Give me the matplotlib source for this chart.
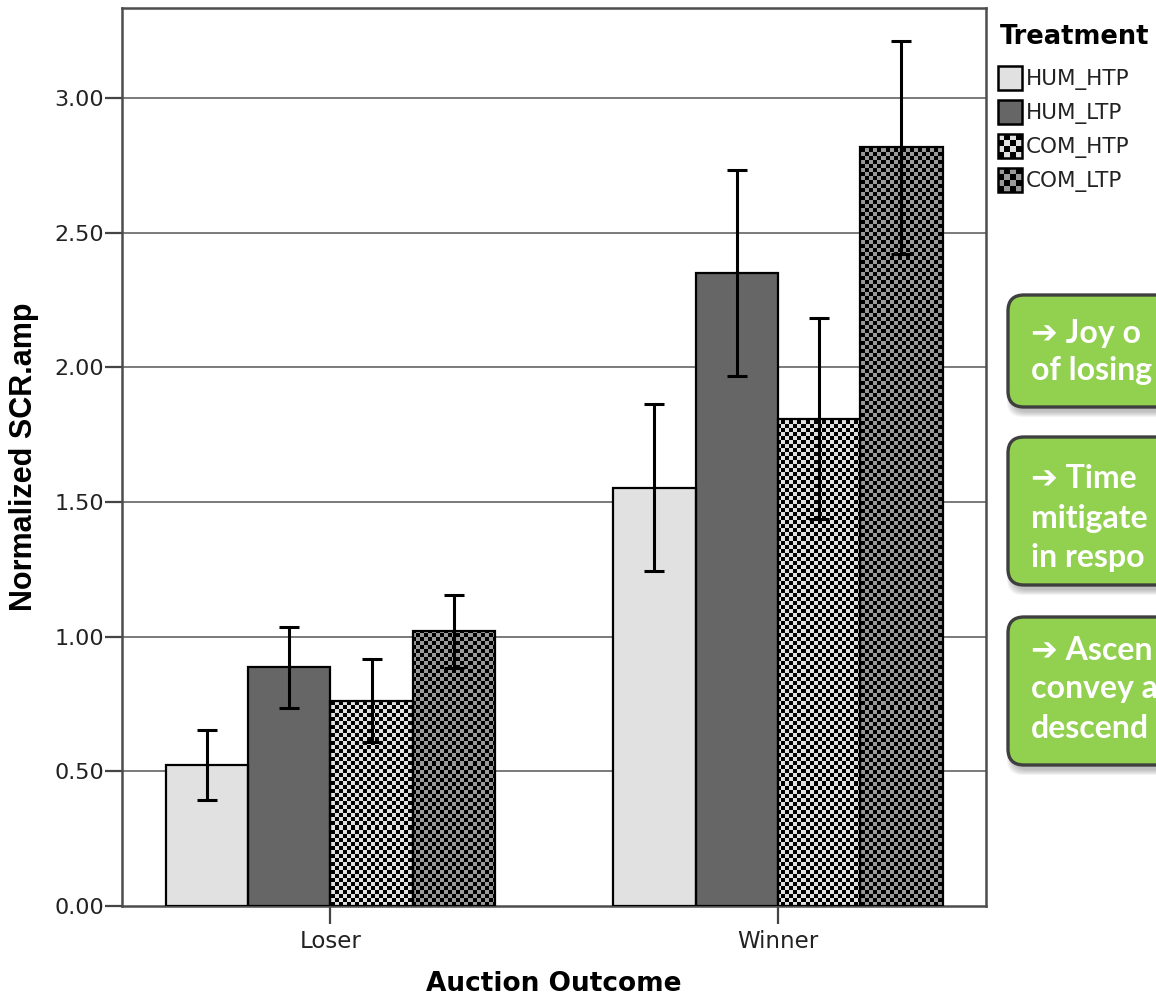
import matplotlib.pyplot as plt
import numpy as np
from matplotlib.patches import FancyBboxPatch, Rectangle

# data
outcomes = ['Loser', 'Winner']
treatments = ['HUM_HTP', 'HUM_LTP', 'COM_HTP', 'COM_LTP']
hum_htp = [0.524, 1.554]
hum_ltp = [0.886, 2.352]
com_htp = [0.762, 1.809]
com_ltp = [1.020, 2.818]
hum_htp_err = [0.130, 0.310]
hum_ltp_err = [0.149, 0.383]
com_htp_err = [0.154, 0.373]
com_ltp_err = [0.136, 0.396]

# callout text as far as it is visible (the boxes run off the slide edge)
notes = [
    ['\u2794 Joy o', 'of losing'],
    ['\u2794 Time', 'mitigate', 'in respo'],
    ['\u2794 Ascen', 'convey a', 'descend'],
]

means = [hum_htp, hum_ltp, com_htp, com_ltp]
errs = [hum_htp_err, hum_ltp_err, com_htp_err, com_ltp_err]

LIGHT = '#e1e1e1'
DARK = '#666666'
MID = '#9a9a9a'
# (base colour, checker colour or None)
styles = [(LIGHT, None), (DARK, None), (LIGHT, 'black'), (MID, 'black')]

W, H = 1156, 1001
fig = plt.figure(figsize=(W / 100, H / 100), dpi=100)
ax = fig.add_axes([122.3 / W, 1 - 906 / H, (986 - 122.3) / W, (906 - 8) / H])

XMIN, XMAX = -0.465, 1.465
YMAX = 3.335
ax.set_xlim(XMIN, XMAX)
ax.set_ylim(0, YMAX)

bw = 0.184
x = np.arange(len(outcomes))

for y in np.arange(0.5, 3.01, 0.5):
    ax.axhline(y, color='#707070', lw=1.3, zorder=0)


def checker(rows, cols, c0, c1):
    a = np.add.outer(np.arange(rows), np.arange(cols)) % 2
    img = np.zeros((rows, cols, 3))
    img[a == 0] = plt.matplotlib.colors.to_rgb(c0)
    img[a == 1] = plt.matplotlib.colors.to_rgb(c1)
    return img


ax_w_px = 986 - 122.3
ax_h_px = 906 - 8
cell = 4

for i, (m, e) in enumerate(zip(means, errs)):
    base, chk = styles[i]
    pos = x + (i - 1.5) * bw
    bars = ax.bar(pos, m, bw, color=base, edgecolor='none', zorder=2)
    if chk is not None:
        img = checker(int(ax_h_px / cell), int(ax_w_px / cell), base, chk)
        for b in bars:
            im = ax.imshow(img, extent=(XMIN, XMAX, 0, YMAX), aspect='auto',
                           interpolation='nearest', zorder=2.5)
            im.set_clip_path(b)
    ax.bar(pos, m, bw, color='none', edgecolor='black', lw=1.6, zorder=3)
    ax.errorbar(pos, m, yerr=e, fmt='none', ecolor='black', elinewidth=2.2,
                capsize=7.2, capthick=2.2, zorder=4)

ax.set_xlim(XMIN, XMAX)
ax.set_ylim(0, YMAX)
ax.set_xticks(x)
ax.set_xticklabels(outcomes)
ax.set_yticks(np.arange(0, 3.01, 0.5))
ax.set_yticklabels(['%.2f' % v for v in np.arange(0, 3.01, 0.5)])
ax.tick_params(axis='y', length=12, width=1.6, pad=1, colors='#444444',
               labelcolor='#222222', labelsize=16)
ax.tick_params(axis='x', length=13, width=1.6, pad=4, colors='#444444',
               labelcolor='#222222', labelsize=16.5)
for s in ax.spines.values():
    s.set_color('#4d4d4d')
    s.set_linewidth(1.8)

ax.set_ylabel('Normalized SCR.amp', fontsize=22, fontweight='bold',
              family='Liberation Sans')
ax.yaxis.set_label_coords(-0.097, 0.5)
ax.set_xlabel('Auction Outcome', fontsize=19, fontweight='bold')
ax.xaxis.set_label_coords(0.5, -0.072)

# overlay in pixel coordinates for legend and callout boxes
ov = fig.add_axes([0, 0, 1, 1])
ov.set_xlim(0, W)
ov.set_ylim(H, 0)
ov.axis('off')

ov.text(1000, 37, 'Treatment', fontsize=18.5, fontweight='bold',
        va='center', ha='left')
for i, name in enumerate(treatments):
    base, chk = styles[i]
    cy = 78 + 34 * i
    x0, y0, sw, sh = 998, cy - 12, 24, 24
    r = Rectangle((x0, y0), sw, sh, facecolor=base, edgecolor='none', zorder=1)
    ov.add_patch(r)
    if chk is not None:
        im = ov.imshow(checker(4, 4, base, chk), extent=(x0, x0 + sw, y0 + sh, y0),
                       aspect='auto', interpolation='nearest', zorder=2)
        im.set_clip_path(r)
    ov.add_patch(Rectangle((x0, y0), sw, sh, facecolor='none',
                           edgecolor='black', lw=1.8, zorder=3))
    ov.text(1026, cy + 1, name, fontsize=15.5, color='#222222',
            va='center', ha='left')
ov.set_xlim(0, W)
ov.set_ylim(H, 0)

boxes = [(295, 407, [343, 380]), (437, 585, [488, 528, 567]),
         (617, 765, [660, 698, 738])]
for (top, bot, bases), lines in zip(boxes, notes):
    for k in range(6):
        ov.add_patch(FancyBboxPatch((1008 + 4, top + 5), 400, bot - top,
                                    boxstyle='round,pad=%d,rounding_size=16' % k,
                                    facecolor='#555555', edgecolor='none',
                                    alpha=0.07))
    ov.add_patch(FancyBboxPatch((1008, top), 400, bot - top,
                                boxstyle='round,pad=0,rounding_size=16',
                                facecolor='#92d050', edgecolor='#3f3f3f', lw=2.4))
    for yb, t in zip(bases, lines):
        ov.text(1031, yb, t, fontsize=23, fontweight='bold', color='white',
                family=['Lato', 'DejaVu Sans'], va='baseline', ha='left')

fig.savefig('out.png', dpi=100)
